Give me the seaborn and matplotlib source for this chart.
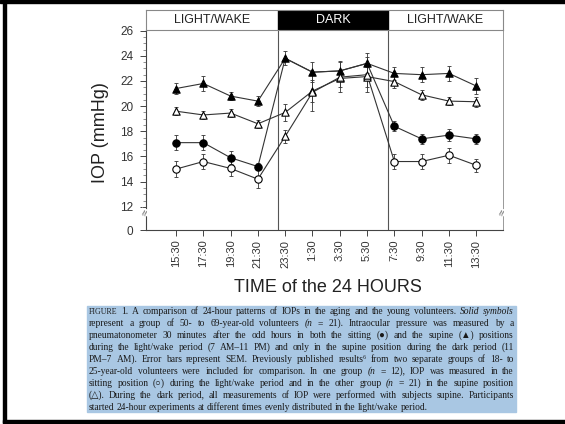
import numpy as np
import matplotlib
matplotlib.use("Agg")
import matplotlib.pyplot as plt
import seaborn as sns
from matplotlib.patches import Rectangle
from matplotlib.ticker import FixedLocator

# ---- data ----
times = ["15:30", "17:30", "19:30", "21:30", "23:30", "1:30",
         "3:30", "5:30", "7:30", "9:30", "11:30", "13:30"]
nan = np.nan

# aging volunteers (50-69 yr), supine (filled triangles)
aging_supine = [21.4, 21.8, 20.8, 20.4, 23.8, 22.7, 22.8, 23.4, 22.6, 22.5, 22.6, 21.6]
aging_supine_err = [0.45, 0.6, 0.3, 0.4, 0.55, 0.8, 0.8, 0.8, 0.55, 0.6, 0.6, 0.6]
# aging volunteers, sitting (filled circles) - light/wake only
aging_sitting = [17.1, 17.1, 15.9, 15.2, nan, nan, nan, nan, 18.4, 17.4, 17.7, 17.4]
aging_sitting_err = [0.6, 0.6, 0.5, 0.3, nan, nan, nan, nan, 0.4, 0.4, 0.5, 0.4]
# young volunteers (18-25 yr), supine group (open triangles)
young_supine = [19.6, 19.3, 19.45, 18.6, 19.5, 21.2, 22.2, 22.35, 21.95, 20.9, 20.4, 20.35]
young_supine_err = [0.3, 0.3, 0.3, 0.3, 0.7, 0.9, 0.7, 0.8, 0.5, 0.4, 0.3, 0.4]
# young volunteers, sitting group (open circles, supine in the dark)
young_sitting = [15.0, 15.6, 15.05, 14.2, 17.6, 21.1, 22.3, 22.5, 15.6, 15.6, 16.1, 15.3]
young_sitting_err = [0.65, 0.6, 0.6, 0.7, 0.5, 1.5, 1.2, 1.4, 0.6, 0.6, 0.6, 0.5]

dark_hours = (23.0, 7.0)
y_ticks = [12, 14, 16, 18, 20, 22, 24, 26]

caption_lines = [
    "^FIGURE 1.  A comparison of 24-hour patterns of IOPs in the aging and the young volunteers. *Solid *symbols",
    "represent a group of 50- to 69-year-old volunteers (*n = 21). Intraocular pressure was measured by a",
    "pneumatonometer 30 minutes after the odd hours in both the sitting (\u25cf) and the supine (\u25b2) positions",
    "during the light/wake period (7 AM\u201311 PM) and only in the supine position during the dark period (11",
    "PM\u20137 AM). Error bars represent SEM. Previously published results\u2076 from two separate groups of 18- to",
    "25-year-old volunteers were included for comparison. In one group (*n = 12), IOP was measured in the",
    "sitting position (\u25cb) during the light/wake period and in the other group (*n = 21) in the supine position",
    "(\u25b3). During the dark period, all measurements of IOP were performed with subjects supine. Participants",
    "started 24-hour experiments at different times evenly distributed in the light/wake period.",
]

# ---- derived positions ----
W, H = 565, 424
x = np.arange(len(times))
hours = np.array([int(t.split(":")[0]) + int(t.split(":")[1]) / 60 for t in times])
is_dark = (hours >= dark_hours[0]) | (hours < dark_hours[1])
light = ~is_dark
def hour_to_pos(h):
    return ((h - hours[0]) % 24) / 2.0
dark_start, dark_end = hour_to_pos(dark_hours[0]), hour_to_pos(dark_hours[1])

aging_supine = np.array(aging_supine)
aging_sitting = np.array(aging_sitting)
young_supine = np.array(young_supine)
young_sitting = np.array(young_sitting)
# in the dark the aging group was measured supine only, so the sitting line joins those points
aging_sitting_line = np.where(np.isnan(aging_sitting), aging_supine, aging_sitting)

sns.set_theme(style="ticks")
plt.rcParams["font.family"] = ["Liberation Sans", "DejaVu Sans"]

fig = plt.figure(figsize=(W / 100, H / 100), dpi=100)
fig.patch.set_facecolor("white")

xlim = (-1.1, 11.98)
ylim = (10.16, 26.05)
ax = fig.add_axes([146 / W, 1 - 230 / H, 357 / W, 200 / H])
ax.set_facecolor("white")

line_kw = dict(color="#333333", linewidth=0.8, ax=ax, legend=False, zorder=2)
for series in [aging_supine, aging_sitting_line, young_supine, young_sitting]:
    sns.lineplot(x=x, y=series, **line_kw)

err_kw = dict(fmt="none", ecolor="#333333", elinewidth=0.6, capsize=1.6, capthick=0.6, zorder=3)
ax.errorbar(x, aging_supine, yerr=aging_supine_err, **err_kw)
ax.errorbar(x[light], aging_sitting[light], yerr=np.array(aging_sitting_err)[light], **err_kw)
ax.errorbar(x, young_supine, yerr=young_supine_err, **err_kw)
ax.errorbar(x, young_sitting, yerr=young_sitting_err, **err_kw)

mk = dict(ax=ax, s=28, edgecolor="black", linewidth=0.8, zorder=4, legend=False)
sns.scatterplot(x=x, y=aging_supine, marker="^", color="black", **mk)
sns.scatterplot(x=x[light], y=aging_sitting[light], marker="o", color="black", **mk)
sns.scatterplot(x=x, y=young_supine, marker="^", color="white", **mk)
sns.scatterplot(x=x[light], y=young_sitting[light], marker="o", color="white", **mk)
sns.scatterplot(x=x[is_dark], y=young_sitting[is_dark], marker="^", color="white", **mk)

for b in (dark_start, dark_end):
    ax.axvline(b, color="#555555", linewidth=0.8, zorder=1)

ax.set_xlim(*xlim)
ax.set_ylim(*ylim)
ax.set_xticks(x)
ax.set_xticklabels(times, rotation=90, fontsize=8, color="#333333")
ax.set_yticks([ylim[0]] + y_ticks)
ax.set_yticklabels(["0"] + [str(v) for v in y_ticks], fontsize=8.5, color="#333333")
ax.yaxis.set_minor_locator(FixedLocator(np.arange(y_ticks[0], y_ticks[-1] + 0.01, 0.5)))
ax.tick_params(axis="both", which="major", direction="out", length=4, width=0.7,
               color="#444444", pad=3)
ax.tick_params(axis="y", which="major", pad=5)
ax.tick_params(axis="y", which="minor", direction="out", length=2, width=0.5, color="#666666")
ax.set_xlabel("")
for side in ("left", "bottom"):
    ax.spines[side].set_color("#444444")
    ax.spines[side].set_linewidth(0.8)
ax.spines["right"].set_visible(True)
ax.spines["right"].set_color("#999999")
ax.spines["right"].set_linewidth(0.7)
ax.spines["top"].set_visible(False)

# axis breaks between 0 and 12
for xa in (0, 1):
    ax.text(xa, 11.55, "\u2248", transform=ax.get_yaxis_transform(), rotation=70,
            ha="center", va="center", fontsize=8, color="#555555",
            bbox=dict(facecolor="white", edgecolor="none", pad=0.2), zorder=6, clip_on=False)

ax.set_ylabel("IOP (mmHg)", fontsize=13, color="#222222")
ax.yaxis.set_label_coords(-0.105, 0.485)
fig.text(328 / W, 1 - 287 / H, "TIME of the 24 HOURS", fontsize=13, color="#222222",
         ha="center", va="center")

# light/dark header
hax = fig.add_axes([146 / W, 1 - 30 / H, 357 / W, 20 / H])
hax.set_xlim(*xlim)
hax.set_ylim(0, 1)
hax.axvspan(dark_start, dark_end, color="black")
hax.set_xticks([])
hax.set_yticks([])
for s in hax.spines.values():
    s.set_visible(True)
    s.set_color("#888888")
    s.set_linewidth(0.8)
hax.text((xlim[0] + dark_start) / 2, 0.5, "LIGHT/WAKE", ha="center", va="center", fontsize=9, color="#222222")
hax.text((dark_start + dark_end) / 2, 0.5, "DARK", ha="center", va="center", fontsize=9, color="white")
hax.text((dark_end + xlim[1]) / 2, 0.5, "LIGHT/WAKE", ha="center", va="center", fontsize=9, color="#222222")

# page frame
fig.add_artist(Rectangle((0, 1 - 3 / H), 1, 3 / H, transform=fig.transFigure, color="black"))
fig.add_artist(Rectangle((3 / W, 1 - 423 / H), 3 / W, 423 / H, transform=fig.transFigure, color="black"))
fig.add_artist(Rectangle((3 / W, 1 - 422.5 / H), 1, 2.5 / H, transform=fig.transFigure, color="black"))

# caption (highlighted, justified)
fig.add_artist(Rectangle((86.7 / W, 1 - 412 / H), (516 - 86.7) / W, 106 / H,
                         transform=fig.transFigure, color="#a9c7e3", zorder=0))
cap_left, cap_right = 89, 514
cap_family = ["Liberation Serif", "DejaVu Serif", "DejaVu Sans"]
renderer = fig.canvas.get_renderer()

def plain(line):
    return line.replace("*", "").replace("^", "")

probe_size = 7.0
max_w = 0
for line in caption_lines:
    t = fig.text(0, 0, plain(line), fontsize=probe_size, family=cap_family)
    max_w = max(max_w, t.get_window_extent(renderer).width)
    t.remove()
cap_size = probe_size * (cap_right - cap_left) / max_w * 0.985

for i, line in enumerate(caption_lines):
    y = 1 - (314 + i * 11.95) / H
    arts = []
    for word in line.split():
        style = "italic" if "*" in word else "normal"
        size = cap_size * 0.82 if word.startswith("^") else cap_size
        arts.append(fig.text(0, y, plain(word), fontsize=size, style=style,
                             family=cap_family, ha="left", va="baseline", color="#1a1a1a"))
    widths = [a.get_window_extent(renderer).width for a in arts]
    if i < len(caption_lines) - 1:
        gap = (cap_right - cap_left - sum(widths)) / (len(arts) - 1)
    else:
        gap = cap_size * 0.3
    pos = cap_left
    for a, w in zip(arts, widths):
        a.set_x(pos / W)
        pos += w + gap

fig.savefig("out.png", dpi=100, facecolor="white")
